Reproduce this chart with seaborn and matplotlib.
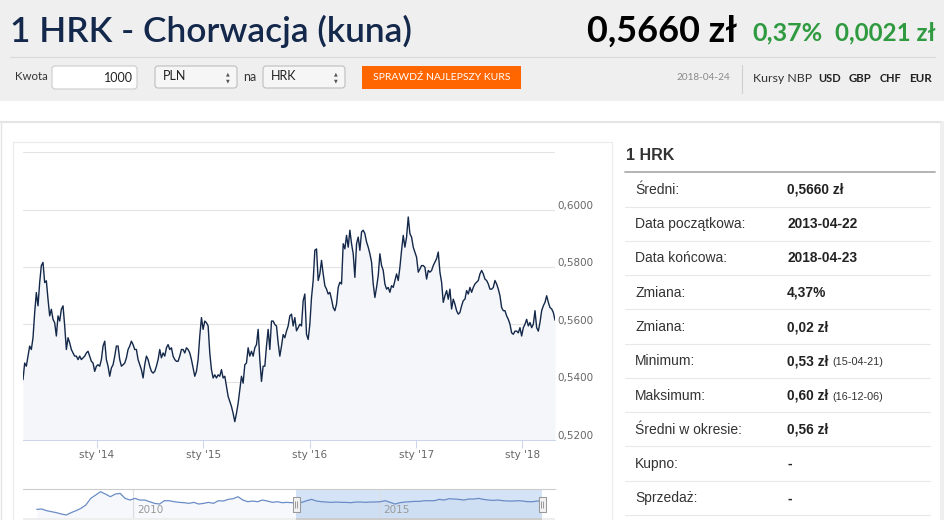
import numpy as np
import pandas as pd
import seaborn as sns
import matplotlib.pyplot as plt
from matplotlib.patches import Rectangle, FancyBboxPatch
from matplotlib.path import Path
import matplotlib.transforms as mtransforms

W, H = 945, 520

# HRK/PLN rate, 2013-04-22 .. 2018-04-23
rates_2013_14 = [
    0.5408, 0.5466, 0.5455, 0.5490, 0.5525, 0.5513, 0.5554, 0.5641, 0.5711, 0.5665,
    0.5746, 0.5805, 0.5816, 0.5746, 0.5752, 0.5688, 0.5630, 0.5653, 0.5618, 0.5606,
    0.5560, 0.5630, 0.5612, 0.5653, 0.5665, 0.5595, 0.5513, 0.5554, 0.5536, 0.5513,
    0.5501, 0.5490, 0.5490, 0.5478, 0.5490, 0.5478, 0.5484, 0.5490, 0.5501, 0.5507,
    0.5490, 0.5472, 0.5466, 0.5437, 0.5455, 0.5460, 0.5455, 0.5478, 0.5525, 0.5542,
    0.5478, 0.5455, 0.5420, 0.5449, 0.5460, 0.5490, 0.5525, 0.5525, 0.5478, 0.5455,
    0.5460, 0.5466, 0.5484, 0.5513, 0.5525, 0.5542, 0.5530, 0.5513, 0.5513, 0.5478,
    0.5460, 0.5443, 0.5414, 0.5460, 0.5490, 0.5478, 0.5455, 0.5437, 0.5431, 0.5437,
    0.5455, 0.5478,
]
rates_2014_15 = [
    0.5513, 0.5484, 0.5501, 0.5490, 0.5519, 0.5530, 0.5513, 0.5519, 0.5490, 0.5478,
    0.5472, 0.5472, 0.5490, 0.5513, 0.5513, 0.5501, 0.5519, 0.5513, 0.5501, 0.5478,
    0.5449, 0.5420, 0.5437, 0.5478, 0.5560, 0.5624, 0.5583, 0.5612, 0.5606, 0.5595,
    0.5501, 0.5443, 0.5414, 0.5425, 0.5414, 0.5425, 0.5420, 0.5443, 0.5414, 0.5420,
    0.5385, 0.5350, 0.5332, 0.5315, 0.5291, 0.5262, 0.5291, 0.5326, 0.5373, 0.5420,
    0.5396, 0.5460, 0.5466, 0.5519, 0.5490, 0.5507, 0.5490, 0.5519, 0.5530, 0.5583,
    0.5478, 0.5402, 0.5455, 0.5455, 0.5525, 0.5583, 0.5513, 0.5612, 0.5612, 0.5600,
    0.5595, 0.5536, 0.5490, 0.5525, 0.5565, 0.5554, 0.5577, 0.5595, 0.5630, 0.5636,
    0.5595,
]
rates_2015_17 = [
    0.5624, 0.5578, 0.5589, 0.5601, 0.5595, 0.5683, 0.5706, 0.5566, 0.5548, 0.5601,
    0.5694, 0.5753, 0.5858, 0.5863, 0.5753, 0.5776, 0.5823, 0.5776, 0.5735, 0.5723,
    0.5706, 0.5712, 0.5688, 0.5659, 0.5648, 0.5671, 0.5729, 0.5747, 0.5741, 0.5881,
    0.5863, 0.5910, 0.5869, 0.5928, 0.5881, 0.5846, 0.5764, 0.5881, 0.5904, 0.5858,
    0.5922, 0.5928, 0.5916, 0.5887, 0.5869, 0.5846, 0.5817, 0.5741, 0.5694, 0.5729,
    0.5770, 0.5846, 0.5805, 0.5788, 0.5741, 0.5723, 0.5729, 0.5712, 0.5735, 0.5729,
    0.5753, 0.5776, 0.5753, 0.5799, 0.5858, 0.5910, 0.5869, 0.5904, 0.5974, 0.5916,
    0.5904, 0.5869, 0.5852, 0.5834, 0.5782, 0.5793, 0.5805, 0.5805, 0.5799, 0.5758,
    0.5788, 0.5782,
]
rates_2017_18 = [
    0.5788, 0.5805, 0.5817, 0.5829, 0.5852, 0.5782, 0.5747, 0.5677, 0.5700, 0.5718,
    0.5688, 0.5723, 0.5654, 0.5688, 0.5671, 0.5648, 0.5636, 0.5642, 0.5665, 0.5683,
    0.5688, 0.5718, 0.5706, 0.5729, 0.5712, 0.5729, 0.5741, 0.5747, 0.5753, 0.5776,
    0.5788, 0.5776, 0.5758, 0.5753, 0.5741, 0.5723, 0.5723, 0.5729, 0.5753, 0.5741,
    0.5723, 0.5700, 0.5659, 0.5648, 0.5648, 0.5630, 0.5618, 0.5601, 0.5571, 0.5566,
    0.5577, 0.5577, 0.5571, 0.5589, 0.5560, 0.5589, 0.5601, 0.5618, 0.5595, 0.5607,
    0.5589, 0.5601, 0.5648, 0.5589, 0.5577, 0.5607, 0.5648, 0.5665, 0.5677, 0.5700,
    0.5677, 0.5659, 0.5654, 0.5642, 0.5615,
]

# navigator series (full history)
nav_2008_13 = [
    0.4934, 0.4965, 0.4808, 0.4714, 0.4620, 0.4494, 0.4400, 0.4620, 0.4808, 0.5028,
    0.5342, 0.5970, 0.6284, 0.6598, 0.6378, 0.6127, 0.6378, 0.6441, 0.5970, 0.5813,
    0.5970, 0.5813, 0.5813, 0.5656, 0.5499, 0.5436, 0.5750, 0.5750, 0.5656, 0.5593,
    0.5562, 0.5499, 0.5593, 0.5436, 0.5499, 0.5593, 0.5499, 0.5750, 0.5719, 0.5876,
    0.5939, 0.6127, 0.5813, 0.5656, 0.5719, 0.5656, 0.5813, 0.5719, 0.5593, 0.5656,
    0.5562, 0.5593, 0.5562, 0.5562, 0.5593,
]
nav_2013_18 = [
    0.5750, 0.5876, 0.5719, 0.5656, 0.5625, 0.5593, 0.5625, 0.5593, 0.5593, 0.5562,
    0.5625, 0.5625, 0.5593, 0.5625, 0.5625, 0.5656, 0.5750, 0.5593, 0.5436, 0.5562,
    0.5625, 0.5656, 0.5687, 0.5687, 0.5750, 0.5750, 0.5750, 0.5876, 0.5813, 0.5939,
    0.5907, 0.5876, 0.5813, 0.5907, 0.5907, 0.5970, 0.5876, 0.5813, 0.5782, 0.5813,
    0.5750, 0.5719, 0.5719, 0.5750, 0.5719, 0.5656, 0.5656, 0.5719, 0.5750,
]

start_date, end_date = "2013-04-22", "2018-04-23"
nav_start = "2008-01-15"
year_ticks = ["2014-01-01", "2015-01-01", "2016-01-01", "2017-01-01", "2018-01-01"]
year_labels = ["sty '14", "sty '15", "sty '16", "sty '17", "sty '18"]
y_ticks = [0.52, 0.54, 0.56, 0.58, 0.60, 0.62]
y_labels = ["0,5200", "0,5400", "0,5600", "0,5800", "0,6000"]
nav_years = ["2010", "2015"]

stat_names = ["Średni:", "Data początkowa:", "Data końcowa:", "Zmiana:", "Zmiana:",
              "Minimum:", "Maksimum:", "Średni w okresie:", "Kupno:", "Sprzedaż:"]
stat_values = ["0,5660 zł", "2013-04-22", "2018-04-23", "4,37%", "0,02 zł",
               "0,53 zł", "0,60 zł", "0,56 zł", "-", "-"]
stat_notes = ["", "", "", "", "", "(15-04-21)", "(16-12-06)", "", "", ""]

rates = np.concatenate([rates_2013_14, rates_2014_15, rates_2015_17, rates_2017_18])
df = pd.DataFrame({"date": pd.date_range(start_date, end_date, periods=len(rates)),
                   "rate": rates})
nav_rates = np.concatenate([nav_2008_13, nav_2013_18])
nav = pd.DataFrame({"date": pd.date_range(nav_start, end_date, periods=len(nav_rates)),
                    "rate": nav_rates})

LINE = "#14284a"
FILL = "#f4f6f9"
NAVY = "#14284b"
GREEN = "#2f9a3f"

sns.set_theme(style="white")
plt.rcParams["font.family"] = ["DejaVu Sans"]

fig = plt.figure(figsize=(W / 100, H / 100), dpi=100)
fig.patch.set_facecolor("white")
renderer = fig.canvas.get_renderer()


def box(x0, y0, x1, y1):
    return [x0 / W, 1 - y1 / H, (x1 - x0) / W, (y1 - y0) / H]


page = fig.add_axes([0, 0, 1, 1], zorder=0)
page.set_xlim(0, W)
page.set_ylim(H, 0)
page.axis("off")


def put(x, y, s, width=None, **kw):
    kw.setdefault("va", "center")
    t = page.text(x, y, s, **kw)
    if width:
        w = t.get_window_extent(renderer).width
        t.set_fontsize(t.get_fontsize() * width / w)
    return t


def rbox(x0, y0, x1, y1, face, edge, r=3):
    page.add_patch(FancyBboxPatch((x0, y0), x1 - x0, y1 - y0,
                                  boxstyle=f"round,pad=0,rounding_size={r}",
                                  fc=face, ec=edge, lw=0.8))


# header band
page.add_patch(Rectangle((0, 0), W, 101, fc="#efefef", ec="none"))
page.plot([10, 935], [57, 57], color="#d8d8d8", lw=0.8)
LATO = ["Lato", "DejaVu Sans"]
put(10, 31, "1 HRK - Chorwacja (kuna)", width=402, color=NAVY, family=LATO,
    fontsize=24, fontweight="semibold")
put(587, 31, "0,5660 zł", width=150, color="black", family=LATO, fontsize=24,
    fontweight="bold")
put(752, 33, "0,37%", width=70, color=GREEN, family=LATO, fontsize=16, fontweight="bold")
put(835, 33, "0,0021 zł", width=100, color=GREEN, family=LATO, fontsize=16,
    fontweight="bold")

# form row
put(15, 77, "Kwota", width=33, color="#333333", family=LATO, fontsize=9)
rbox(52, 66, 137, 89, "white", "#cccccc")
put(133, 78, "1000", color="#222222", family=LATO, fontsize=9, ha="right")
for x0, txt in [(155, "PLN"), (263, "HRK")]:
    rbox(x0, 66, x0 + 82, 88, "#f6f6f6", "#bdbdbd")
    put(x0 + 8, 76.5, txt, color="#222222", family=LATO, fontsize=9)
    put(x0 + 73, 73.5, "▲", color="#555555", fontsize=3.5, ha="center")
    put(x0 + 73, 80.5, "▼", color="#555555", fontsize=3.5, ha="center")
put(243, 77, "na", color="#333333", family=LATO, fontsize=9)
page.add_patch(Rectangle((362, 66), 159, 23, fc="#ff6600", ec="none"))
put(441.5, 78, "SPRAWDŹ NAJLEPSZY KURS", width=138, color="white",
    family=["Liberation Sans Narrow", "Lato"], fontsize=7, ha="center")
put(676, 78, "2018-04-24", width=54, color="#8a8a8a", family=LATO, fontsize=8)
page.plot([742, 742], [65, 93], color="#cfcfcf", lw=0.8)
put(753, 78, "Kursy NBP", width=59, color="#333333", family=LATO, fontsize=8.5)
for x0, x1, cur in [(818, 841, "USD"), (849, 872, "GBP"), (880, 902, "CHF"), (909, 932, "EUR")]:
    put(x0, 78, cur, width=x1 - x0, color="#222222", family=LATO, fontsize=8.5,
        fontweight="bold")

# content panel frames
page.plot([0, 940], [121.5, 121.5], color="#e4e4e4", lw=1.5)
page.plot([1, 1], [121, H], color="#e4e4e4", lw=1)
page.add_patch(Rectangle((940, 121), 5, H - 121, fc="#efefef", ec="none"))
page.add_patch(Rectangle((13, 142), 599, 400, fc="white", ec="#ebebeb", lw=0.8))

# stats table
ARIAL = ["Liberation Sans", "DejaVu Sans"]
put(626, 156, "1 HRK", color="#333333", family=ARIAL, fontsize=11.5, fontweight="bold")
page.plot([625, 935], [171.5, 171.5], color="#b3b3b3", lw=1.4)
row_h = 34.25
for i, (name, val, note) in enumerate(zip(stat_names, stat_values, stat_notes)):
    yc = 190 + i * row_h
    page.plot([625, 930], [yc + 16.5, yc + 16.5], color="#e8e8e8", lw=0.8)
    put(635, yc, name, color="#333333", family=ARIAL, fontsize=10)
    t = put(787, yc, val, color="#222222", family=ARIAL, fontsize=9.9, fontweight="bold")
    if note:
        bb = t.get_window_extent(renderer)
        put(bb.x1 + 4, yc + 1, note, color="#333333", family=ARIAL, fontsize=7.8)

# main chart
ax = fig.add_axes(box(23, 152, 555, 439.5), zorder=2)
ax.set_facecolor("none")
ax.fill_between(df["date"], df["rate"], 0.52, color=FILL, lw=0, zorder=1)
sns.lineplot(data=df, x="date", y="rate", ax=ax, color=LINE, linewidth=1.0, zorder=3)
ax.set_xlim(df["date"].iloc[0], df["date"].iloc[-1])
ax.set_ylim(0.52, 0.62)
ax.set_yticks(y_ticks)
ax.grid(axis="y", color="#e3e3e3", lw=0.8)
ax.grid(axis="x", visible=False)
ax.set_axisbelow(True)
ax.tick_params(axis="y", length=0, labelleft=False, labelright=False)
ax.set_xticks(pd.to_datetime(year_ticks), year_labels)
ax.tick_params(axis="x", direction="out", length=6, width=0.75, color="#ccd6eb",
               labelsize=7.5, labelcolor="#666666", pad=1.5, bottom=True)
for s in ["left", "right", "top"]:
    ax.spines[s].set_visible(False)
ax.spines["bottom"].set_color("#ccd6eb")
ax.spines["bottom"].set_linewidth(0.75)
ax.set_xlabel("")
ax.set_ylabel("")
for v, lbl in zip(y_ticks, y_labels):
    ax.annotate(lbl, xy=(1, v), xycoords=("axes fraction", "data"), xytext=(1.5, -0.8),
                textcoords="offset points", ha="left", va="bottom", fontsize=7.5,
                color="#666666", annotation_clip=False)

# navigator
sel0, sel1 = df["date"].iloc[0], df["date"].iloc[-1]
nav_lim = (pd.Timestamp("2007-10-05"), pd.Timestamp("2018-07-26"))
nx = fig.add_axes(box(23, 489, 555, 518), zorder=2)
nx.set_facecolor("white")
nx.axvspan(sel0, sel1, color="#d4e3f6", lw=0, zorder=0)
for yr in nav_years:
    d = pd.Timestamp(f"{yr}-01-01")
    nx.axvline(d, color="#dfdfdf", lw=0.8, zorder=0.5)
    nx.annotate(yr, xy=(d, 0), xycoords=("data", "axes fraction"), xytext=(3, 2),
                textcoords="offset points", fontsize=7.5, color="#999999", va="bottom")
nx.fill_between(nav["date"], nav["rate"], 0.41, color="#6685c2", alpha=0.05, lw=0)
sns.lineplot(data=nav, x="date", y="rate", ax=nx, color="#6a8cc6", linewidth=0.9)
nx.set_xlim(*nav_lim)
nx.set_ylim(0.4117, 0.6855)
nx.set_xticks([])
nx.set_yticks([])
nx.set_xlabel("")
nx.set_ylabel("")
for s in ["left", "right", "bottom"]:
    nx.spines[s].set_visible(False)
nx.spines["top"].set_color("#cccccc")
nx.spines["top"].set_linewidth(0.8)

handle = Path([(-3.5, -7.5), (3.5, -7.5), (3.5, 7.5), (-3.5, 7.5), (-3.5, -7.5)])
grip = Path([(-1, -3.5), (-1, 3.5), (1, -3.5), (1, 3.5)],
            [Path.MOVETO, Path.LINETO, Path.MOVETO, Path.LINETO])
blend = mtransforms.blended_transform_factory(nx.transData, nx.transAxes)
for d in [sel0, sel1]:
    nx.plot([d], [0.5], marker=handle, markersize=10.8, mfc="#f2f2f2", mec="#999999",
            mew=0.75, transform=blend, clip_on=False, zorder=5)
    nx.plot([d], [0.5], marker=grip, markersize=5.04, mfc="none", mec="#999999",
            mew=0.7, transform=blend, clip_on=False, zorder=6)

# scrollbar strip
sb = fig.add_axes(box(23, 518, 555, 523), zorder=2)
sb.set_facecolor("#eeeeee")
sb.axvspan(sel0, sel1, color="#cccccc", lw=0)
sb.set_xlim(*nav_lim)
sb.set_xticks([])
sb.set_yticks([])
for s in sb.spines.values():
    s.set_visible(False)

fig.savefig("out.png", dpi=100)
